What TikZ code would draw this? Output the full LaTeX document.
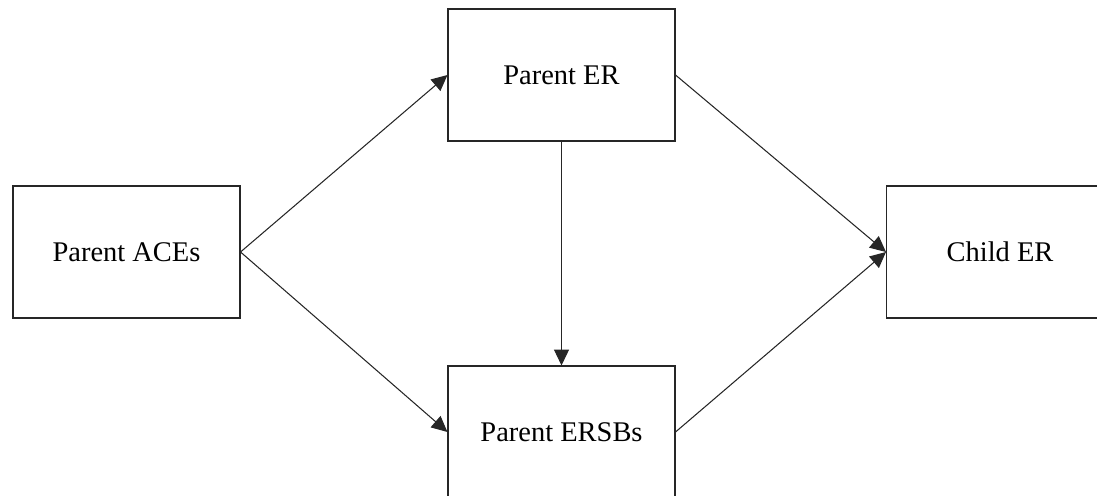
\documentclass[tikz,border=0pt]{standalone}
\usepackage{fontspec}
\setmainfont{Liberation Serif}
\usetikzlibrary{arrows.meta}
\begin{document}
\begin{tikzpicture}[
        every node/.style={
            rectangle,
            draw=black!85,
            fill=white,
            line width=0.6pt,
            minimum width=4.54cm,
            minimum height=2.64cm,
            inner sep=0pt,
            font=\fontsize{16.2}{19}\selectfont
        },
        link/.style={
            draw=black!85,
            line width=0.6pt,
            -{Triangle[length=9pt,width=8.5pt]}
        }
    ]

    \useasboundingbox (0,0) rectangle (21.94,-9.9);

    % Cajas
    \node (aces)  at (2.53,-5.04)  {Parent ACEs};
    \node (per)   at (11.23,-1.5)  {Parent ER};
    \node (ersbs) at (11.23,-8.64) {Parent ERSBs};
    \node (cer)   at (20.0,-5.04)  {Child ER};

    % Flechas
    \draw[link] (aces.east) -- (per.west);
    \draw[link] (aces.east) -- (ersbs.west);
    \draw[link] (per.south) -- (ersbs.north);
    \draw[link] (per.east) -- (cer.west);
    \draw[link] (ersbs.east) -- (cer.west);

\end{tikzpicture}
\end{document}
